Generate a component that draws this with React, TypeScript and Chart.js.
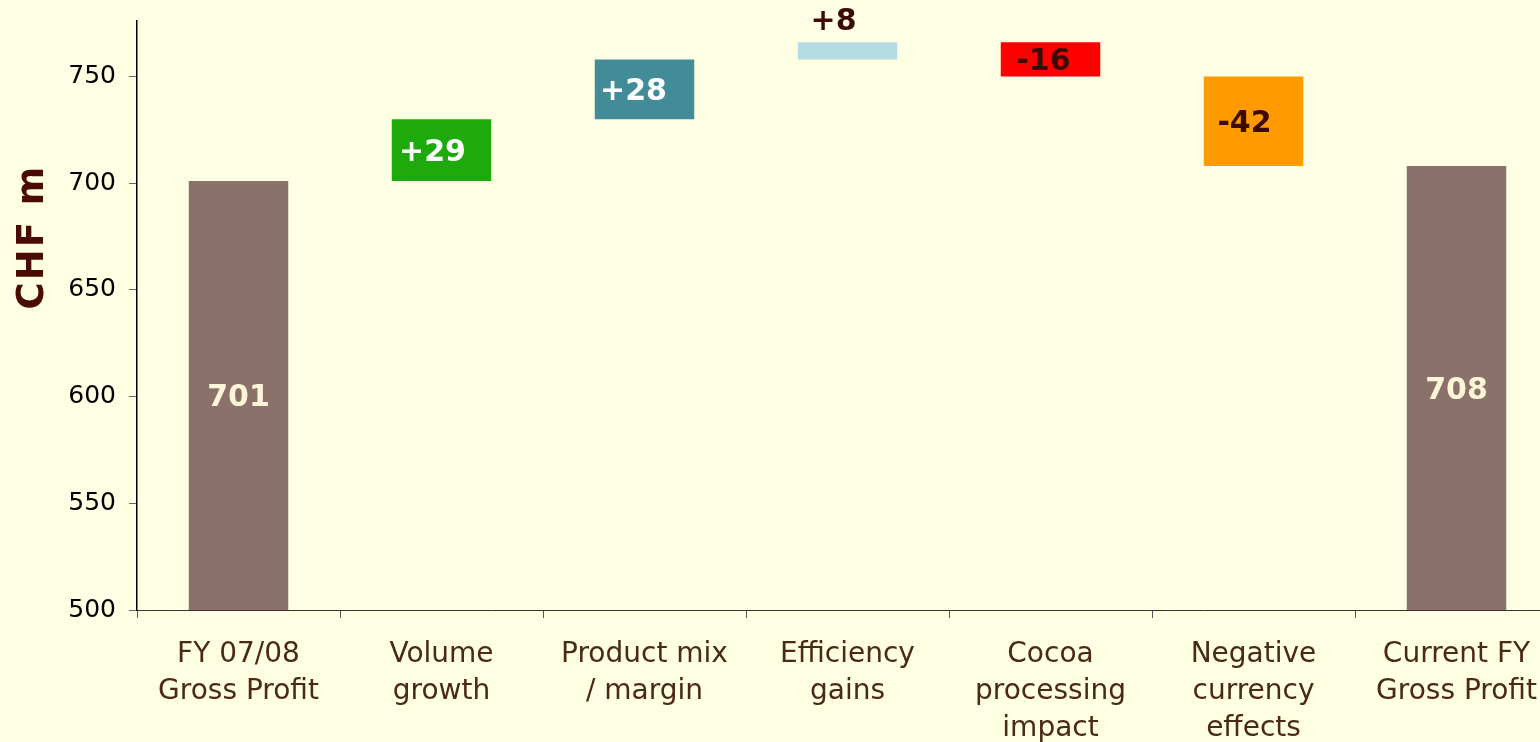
import React, { useEffect, useRef } from "react";
import { Chart, registerables } from "chart.js";

Chart.register(...registerables);

const categories: string[][] = [
  ["FY 07/08", "Gross Profit"],
  ["Volume", "growth"],
  ["Product mix", "/ margin"],
  ["Efficiency", "gains"],
  ["Cocoa", "processing", "impact"],
  ["Negative", "currency", "effects"],
  ["Current FY", "Gross Profit"],
];
const barStarts: number[] = [0, 701, 730, 758, 750, 708, 0];
const barEnds: number[] = [701, 730, 758, 766, 766, 750, 708];
const barLabels: string[] = ["701", "+29", "+28", "+8", "-16", "-42", "708"];
const barColors: string[] = ["#8C706A", "#1FAA0B", "#418C96", "#B5DCE3", "#FF0000", "#FF9A00", "#8C706A"];
const labelColors: string[] = ["#FFF6DA", "#FFFFFF", "#FFFFFF", "#3D0A00", "#3D0A00", "#3D0A00", "#FFF6DA"];
const labelAbove: boolean[] = [false, false, false, true, false, false, false];
const labelShift: number[] = [0, -9, -11, -14, -7, -9, 0];
const yTicks: number[] = [500, 550, 600, 650, 700, 750];
const yMin = 500;
const yMax = 776;
const yTitle = "CHF m";

const FONT = "'DejaVu Sans', Verdana, sans-serif";

const labelPlugin = {
  id: "barLabels",
  afterDatasetsDraw(chart: any) {
    const ctx = chart.ctx;
    const meta = chart.getDatasetMeta(0);
    const area = chart.chartArea;
    ctx.save();
    ctx.font = `bold 30px ${FONT}`;
    ctx.textAlign = "center";
    ctx.textBaseline = "middle";
    meta.data.forEach((el: any, i: number) => {
      const { x, y, base } = el.getProps(["x", "y", "base"], true);
      const top = Math.max(Math.min(y, base), area.top);
      const bottom = Math.min(Math.max(y, base), area.bottom);
      let ty = (top + bottom) / 2 + 2;
      if (labelAbove[i]) ty = top - 21;
      ctx.fillStyle = labelColors[i];
      ctx.fillText(barLabels[i], x + labelShift[i], ty + 1);
    });
    ctx.restore();
  },
  afterDraw(chart: any) {
    const ctx = chart.ctx;
    ctx.save();
    ctx.translate(33, 237);
    ctx.rotate(-Math.PI / 2);
    ctx.font = `bold 37px ${FONT}`;
    try {
      (ctx as any).letterSpacing = "2px";
    } catch (e) {}
    ctx.fillStyle = "#4A0C00";
    ctx.textAlign = "center";
    ctx.textBaseline = "middle";
    ctx.fillText(yTitle, 0, 0);
    ctx.restore();
  },
};

const bgPlugin = {
  id: "bg",
  beforeDraw(chart: any) {
    const ctx = chart.ctx;
    ctx.save();
    ctx.fillStyle = "#FFFFE3";
    ctx.fillRect(0, 0, chart.width, chart.height);
    ctx.restore();
  },
};

export default function App() {
  const ref = useRef<HTMLCanvasElement | null>(null);
  useEffect(() => {
    document.body.style.overflow = "hidden";
    document.body.style.background = "#FFFFE3";
    const chart = new Chart(ref.current as HTMLCanvasElement, {
      type: "bar",
      data: {
        labels: categories,
        datasets: [
          {
            data: barStarts.map((s, i) => [s, barEnds[i]]) as any,
            backgroundColor: barColors,
            borderWidth: 0,
            categoryPercentage: 1,
            barPercentage: 0.49,
          },
        ],
      },
      options: {
        animation: false,
        responsive: false,
        maintainAspectRatio: false,
        layout: { padding: { top: 21, right: 0, left: 0, bottom: 0 } },
        plugins: {
          legend: { display: false },
          tooltip: { enabled: false },
        },
        scales: {
          x: {
            offset: true,
            grid: {
              offset: true,
              drawOnChartArea: false,
              drawTicks: true,
              tickLength: 8,
              color: "#555555",
            },
            border: { display: true, color: "#333333", width: 1 },
            ticks: {
              color: "#4A2A14",
              font: { family: FONT, size: 28, lineHeight: 1.32 },
              padding: 18,
              maxRotation: 0,
              autoSkip: false,
            },
            afterFit(scale: any) {
              scale.height = 132;
              scale.paddingLeft = 0;
              scale.paddingRight = 0;
            },
          },
          y: {
            min: yMin,
            max: yMax,
            grid: {
              drawOnChartArea: false,
              drawTicks: true,
              tickLength: 8,
              color: "#666666",
            },
            border: { display: true, color: "#000000", width: 1.5 },
            ticks: {
              stepSize: 50,
              color: "#000000",
              font: { family: FONT, size: 25 },
              padding: 13,
            },
            afterBuildTicks(scale: any) {
              scale.ticks = yTicks.map((v) => ({ value: v }));
            },
            afterFit(scale: any) {
              scale.width = 137;
              scale.paddingTop = 0;
              scale.paddingBottom = 0;
            },
          },
        },
      },
      plugins: [bgPlugin, labelPlugin],
    });
    return () => chart.destroy();
  }, []);
  return (
    <div
      style={{
        position: "fixed",
        left: 0,
        top: 0,
        width: 1540,
        height: 742,
        overflow: "hidden",
        background: "#FFFFE3",
      }}
    >
      <canvas ref={ref} width={1558} height={742} style={{ display: "block" }} />
    </div>
  );
}
